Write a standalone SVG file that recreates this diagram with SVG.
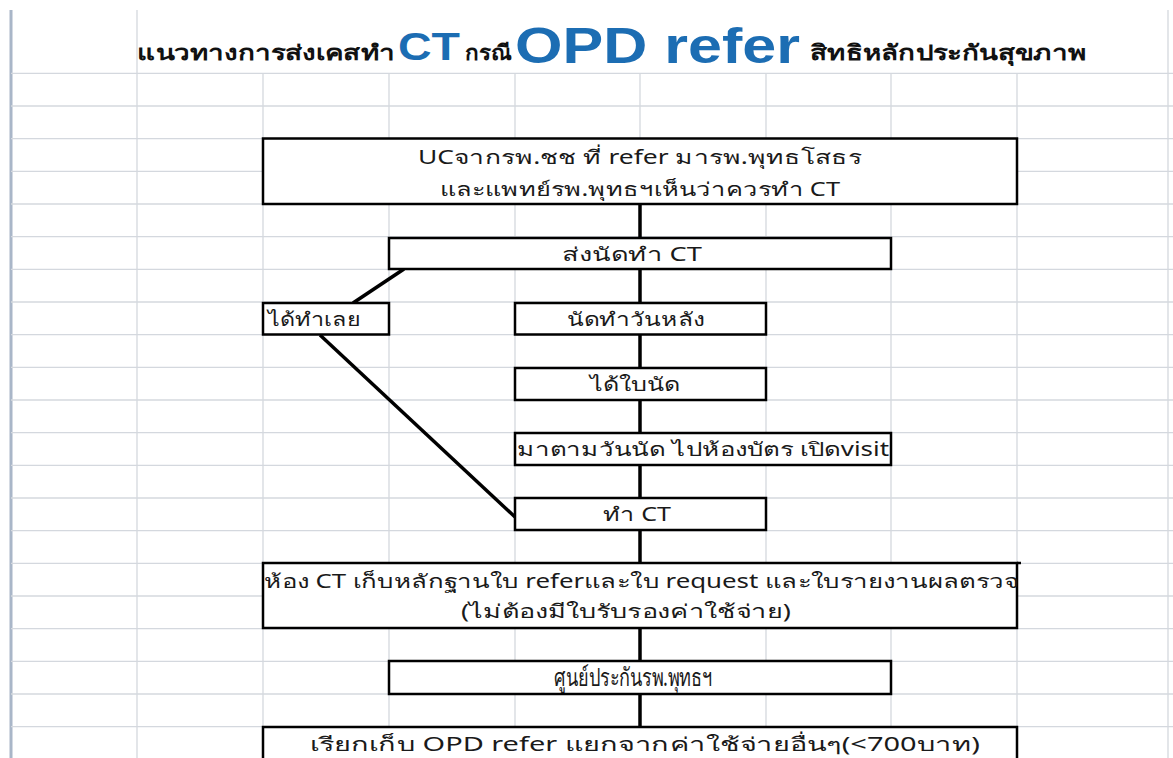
<svg xmlns="http://www.w3.org/2000/svg" width="1173" height="758" viewBox="0 0 1173 758">
<style>
.grid{stroke:#d4d8de;stroke-width:1.3}
.box{fill:#ffffff;stroke:#000;stroke-width:2.5}
.con{stroke:#000;stroke-width:3.5;fill:none}
.t{font-family:"Noto Sans","DejaVu Sans",sans-serif;font-size:19px;fill:#1a1a1a}
.tt{font-family:"Noto Sans","DejaVu Sans",sans-serif;font-size:21px;font-weight:bold;fill:#111}
.blue{font-family:"Liberation Sans",Arial,sans-serif;font-weight:bold;fill:#1c6db3}
</style>
<rect width="1173" height="758" fill="#fff"/>
<g id="grid">
<line class="grid" x1="137" y1="10" x2="137" y2="758"/>
<line class="grid" x1="263" y1="73" x2="263" y2="758"/>
<line class="grid" x1="389" y1="73" x2="389" y2="758"/>
<line class="grid" x1="515" y1="73" x2="515" y2="758"/>
<line class="grid" x1="640" y1="73" x2="640" y2="758"/>
<line class="grid" x1="766" y1="73" x2="766" y2="758"/>
<line class="grid" x1="891" y1="73" x2="891" y2="758"/>
<line class="grid" x1="1017" y1="73" x2="1017" y2="758"/>
<line class="grid" x1="1168" y1="10" x2="1168" y2="758"/>
<line x1="11" y1="10" x2="11" y2="758" stroke="#a9b6c8" stroke-width="3"/>
<line class="grid" x1="11" y1="73.3" x2="1173" y2="73.3"/>
<line class="grid" x1="11" y1="106" x2="1173" y2="106"/>
<line class="grid" x1="11" y1="138.7" x2="1173" y2="138.7"/>
<line class="grid" x1="11" y1="171.3" x2="1173" y2="171.3"/>
<line class="grid" x1="11" y1="204" x2="1173" y2="204"/>
<line class="grid" x1="11" y1="236.7" x2="1173" y2="236.7"/>
<line class="grid" x1="11" y1="269.3" x2="1173" y2="269.3"/>
<line class="grid" x1="11" y1="302" x2="1173" y2="302"/>
<line class="grid" x1="11" y1="334.7" x2="1173" y2="334.7"/>
<line class="grid" x1="11" y1="367.3" x2="1173" y2="367.3"/>
<line class="grid" x1="11" y1="400" x2="1173" y2="400"/>
<line class="grid" x1="11" y1="432.7" x2="1173" y2="432.7"/>
<line class="grid" x1="11" y1="465.3" x2="1173" y2="465.3"/>
<line class="grid" x1="11" y1="498" x2="1173" y2="498"/>
<line class="grid" x1="11" y1="530.7" x2="1173" y2="530.7"/>
<line class="grid" x1="11" y1="563.3" x2="1173" y2="563.3"/>
<line class="grid" x1="11" y1="596" x2="1173" y2="596"/>
<line class="grid" x1="11" y1="628.7" x2="1173" y2="628.7"/>
<line class="grid" x1="11" y1="661.3" x2="1173" y2="661.3"/>
<line class="grid" x1="11" y1="694" x2="1173" y2="694"/>
<line class="grid" x1="11" y1="726.7" x2="1173" y2="726.7"/>
</g>
<g id="title">
<text class="tt" x="137" y="60" textLength="258" lengthAdjust="spacingAndGlyphs">แนวทางการส่งเคสทำ</text>
<text class="blue" x="398" y="60" font-size="38" textLength="62" lengthAdjust="spacingAndGlyphs" fill="#2a7cc2">CT</text>
<text class="tt" x="465" y="60" textLength="46" lengthAdjust="spacingAndGlyphs">กรณี</text>
<text class="blue" x="515" y="63" font-size="50" textLength="285" lengthAdjust="spacingAndGlyphs">OPD refer</text>
<text class="tt" x="810" y="60" textLength="276" lengthAdjust="spacingAndGlyphs">สิทธิหลักประกันสุขภาพ</text>
</g>
<g id="connectors">
<line class="con" x1="640" y1="204" x2="640" y2="238"/>
<line class="con" x1="640" y1="269" x2="640" y2="303"/>
<line class="con" x1="404" y1="269" x2="353" y2="303"/>
<line class="con" x1="320" y1="335" x2="515" y2="517"/>
<line class="con" x1="640" y1="334" x2="640" y2="368"/>
<line class="con" x1="640" y1="400" x2="640" y2="433"/>
<line class="con" x1="640" y1="465" x2="640" y2="498"/>
<line class="con" x1="640" y1="530" x2="640" y2="563"/>
<line class="con" x1="640" y1="628" x2="640" y2="661"/>
<line class="con" x1="640" y1="694" x2="640" y2="727"/>
</g>
<g id="n1">
<rect class="box" x="263" y="138.5" width="754" height="65.5"/>
<text class="t" x="640" y="164" text-anchor="middle" textLength="444" lengthAdjust="spacingAndGlyphs">UCจากรพ.ชช ที่ refer มารพ.พุทธโสธร</text>
<text class="t" x="640" y="196" text-anchor="middle" textLength="400" lengthAdjust="spacingAndGlyphs">และแพทย์รพ.พุทธฯเห็นว่าควรทำ CT</text>
</g>
<g id="n2">
<rect class="box" x="389" y="238" width="502" height="31"/>
<text class="t" x="632" y="261" text-anchor="middle" textLength="140" lengthAdjust="spacingAndGlyphs">ส่งนัดทำ CT</text>
</g>
<g id="n3">
<rect class="box" x="263" y="303" width="126" height="31.5"/>
<text class="t" x="268" y="326" textLength="92" lengthAdjust="spacingAndGlyphs">ได้ทำเลย</text>
</g>
<g id="n4">
<rect class="box" x="515" y="303" width="251" height="31.5"/>
<text class="t" x="636" y="326" text-anchor="middle" textLength="138" lengthAdjust="spacingAndGlyphs">นัดทำวันหลัง</text>
</g>
<g id="n5">
<rect class="box" x="515" y="368" width="251" height="32"/>
<text class="t" x="635" y="391" text-anchor="middle" textLength="90" lengthAdjust="spacingAndGlyphs">ได้ใบนัด</text>
</g>
<g id="n6">
<rect class="box" x="515" y="433" width="376" height="32"/>
<text class="t" x="703" y="456" text-anchor="middle" textLength="372" lengthAdjust="spacingAndGlyphs">มาตามวันนัด ไปห้องบัตร เปิดvisit</text>
</g>
<g id="n7">
<rect class="box" x="515" y="498" width="251" height="32"/>
<text class="t" x="637" y="521" text-anchor="middle" textLength="68" lengthAdjust="spacingAndGlyphs">ทำ CT</text>
</g>
<g id="n8">
<rect class="box" x="263" y="563" width="754" height="65"/>
<line x1="1017" y1="563" x2="1021" y2="563" stroke="#000" stroke-width="2.5"/>
<text class="t" x="264" y="588" textLength="755" lengthAdjust="spacingAndGlyphs">ห้อง CT เก็บหลักฐานใบ referและใบ request และใบรายงานผลตรวจ</text>
<text class="t" x="626" y="618" text-anchor="middle" textLength="330" lengthAdjust="spacingAndGlyphs">(ไม่ต้องมีใบรับรองค่าใช้จ่าย)</text>
</g>
<g id="n9">
<rect class="box" x="389" y="661" width="502" height="33"/>
<text class="t" x="633" y="686" text-anchor="middle" style="font-size:25px" textLength="158" lengthAdjust="spacingAndGlyphs">ศูนย์ประกันรพ.พุทธฯ</text>
</g>
<g id="n10">
<rect class="box" x="263" y="727" width="754" height="33"/>
<text class="t" x="645" y="751" text-anchor="middle" textLength="670" lengthAdjust="spacingAndGlyphs">เรียกเก็บ OPD refer  แยกจากค่าใช้จ่ายอื่นๆ(&lt;700บาท)</text>
</g>
</svg>
